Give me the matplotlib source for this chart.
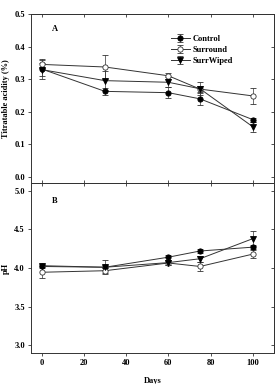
import matplotlib
matplotlib.use("Agg")
import matplotlib.pyplot as plt

days = [0, 30, 60, 75, 100]

ta_control = [0.331, 0.262, 0.258, 0.239, 0.175]
ta_control_err = [0.030, 0.010, 0.017, 0.019, 0.006]
ta_surround = [0.345, 0.337, 0.310, 0.269, 0.248]
ta_surround_err = [0.012, 0.038, 0.010, 0.010, 0.025]
ta_wiped = [0.329, 0.295, 0.290, 0.270, 0.153]
ta_wiped_err = [0.020, 0.030, 0.015, 0.020, 0.015]

ph_control = [4.03, 4.01, 4.14, 4.22, 4.27]
ph_control_err = [0.02, 0.03, 0.03, 0.02, 0.03]
ph_surround = [3.945, 3.965, 4.065, 4.02, 4.18]
ph_surround_err = [0.08, 0.03, 0.02, 0.06, 0.05]
ph_wiped = [4.02, 4.01, 4.07, 4.12, 4.38]
ph_wiped_err = [0.02, 0.09, 0.03, 0.04, 0.10]

labels = ["Control", "Surround", "SurrWiped"]

plt.rcParams['font.family'] = ['Liberation Serif', 'DejaVu Serif']
plt.rcParams['font.weight'] = 'bold'

fig = plt.figure(figsize=(2.77, 3.84), dpi=100)
ax1 = fig.add_axes([0.112, 0.5234, 0.877, 0.4401])
ax2 = fig.add_axes([0.112, 0.0807, 0.877, 0.4427])

lc = '#333333'
styles = [
    dict(marker='o', mfc='black', mec='black'),
    dict(marker='o', mfc='white', mec='#333333'),
    dict(marker='v', mfc='black', mec='black'),
]

def draw(ax, series, errs):
    for i, (s, e) in enumerate(zip(series, errs)):
        ax.errorbar(days, s, yerr=e, color=lc, lw=0.7, ms=3.8, mew=0.6,
                    elinewidth=0.5, capsize=2.2, capthick=0.5, label=labels[i],
                    **styles[i])

draw(ax1, [ta_control, ta_surround, ta_wiped], [ta_control_err, ta_surround_err, ta_wiped_err])
draw(ax2, [ph_control, ph_surround, ph_wiped], [ph_control_err, ph_surround_err, ph_wiped_err])

xt = [0, 20, 40, 60, 80, 100]
for ax in (ax1, ax2):
    ax.set_xlim(-5, 110)
    ax.set_xticks(xt)
    ax.tick_params(direction='out', labelsize=6, length=2.5, width=0.6,
                   color='#333333', pad=2)
    for sp in ax.spines.values():
        sp.set_linewidth(0.7)
        sp.set_color('#333333')

ax1.set_ylim(-0.02, 0.5)
ax1.set_yticks([0.0, 0.1, 0.2, 0.3, 0.4, 0.5])
ax1.set_yticklabels(['0.0', '0.1', '0.2', '0.3', '0.4', '0.5'])
ax1.tick_params(axis='x', direction='in', labelbottom=False)
ax1.set_ylabel('Titratable acidity (%)', fontsize=6, fontweight='bold', va='center')
ax1.yaxis.set_label_coords(-0.105, 0.5)
ax1.text(0.086, 0.91, 'A', transform=ax1.transAxes, fontsize=6, fontweight='bold',
         va='center', ha='left')
leg = ax1.legend(loc='upper left', bbox_to_anchor=(0.56, 0.90), frameon=False,
                 fontsize=6, handlelength=2.2, borderpad=0, labelspacing=0.35,
                 handletextpad=0.4)

ax2.set_ylim(2.9, 5.1)
ax2.set_yticks([3.0, 3.5, 4.0, 4.5, 5.0])
ax2.set_yticklabels(['3.0', '3.5', '4.0', '4.5', '5.0'])
ax2.set_ylabel('pH', fontsize=6, fontweight='bold', va='center')
ax2.yaxis.set_label_coords(-0.105, 0.5)
ax2.set_xlabel('Days', fontsize=6, fontweight='bold', va='center')
ax2.xaxis.set_label_coords(0.5, -0.165)
ax2.text(0.086, 0.894, 'B', transform=ax2.transAxes, fontsize=6, fontweight='bold',
         va='center', ha='left')

# mirrored inward ticks on top and right
for ax in (ax1, ax2):
    top = ax.secondary_xaxis('top')
    top.set_xticks(xt)
    top.tick_params(direction='in', length=2.5, width=0.6, labeltop=False,
                    color='#333333')
    right = ax.secondary_yaxis('right')
    right.set_yticks(ax.get_yticks())
    right.tick_params(direction='in', length=2.5, width=0.6, labelright=False,
                      color='#333333')
    for sp in list(top.spines.values()) + list(right.spines.values()):
        sp.set_linewidth(0.7)
        sp.set_color('#333333')

fig.savefig('out.png', dpi=100, facecolor='white')
